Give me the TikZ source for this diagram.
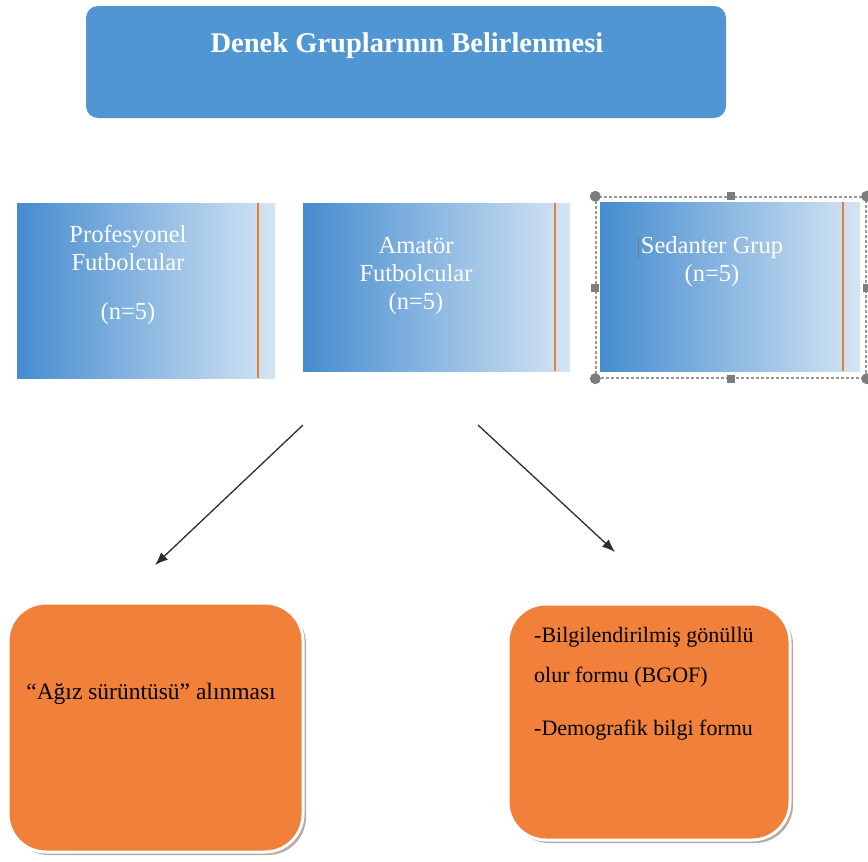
\documentclass[tikz,border=0pt]{standalone}
\usepackage{fontspec}
\setmainfont{Liberation Serif}
\usepackage{tikz}
\usetikzlibrary{scopes,shadows,arrows.meta}
\definecolor{titleblue}{RGB}{80,150,210}
\definecolor{grpdark}{RGB}{70,140,207}
\definecolor{grpmid}{RGB}{138,182,226}
\definecolor{grplight}{RGB}{212,229,244}
\definecolor{accentorange}{RGB}{237,125,49}
\definecolor{resorange}{RGB}{240,128,58}
\definecolor{shadowgray}{RGB}{184,170,158}
\definecolor{arrowgray}{RGB}{45,45,45}
\definecolor{handlegray}{RGB}{125,125,125}

\begin{document}
\begin{tikzpicture}[
    x=1pt,y=-1pt,
    title/.style={rectangle,rounded corners=12pt,fill=titleblue,minimum width=640pt,minimum height=112pt,inner sep=0pt},
    grp/.style={rectangle,left color=grpdark,middle color=grpmid,right color=grplight,inner sep=0pt},
    grptext/.style={text=white,align=center,anchor=north,inner sep=0pt,font=\fontsize{24.5}{28}\selectfont},
    accent/.style={draw=accentorange,line width=2.5pt},
    selframe/.style={rectangle,draw=handlegray!80,densely dashed,line width=1.4pt,inner sep=0pt},
    handle/.style={fill=handlegray,inner sep=0pt},
    res/.style={rectangle,rounded corners=38pt,fill=resorange,draw=white,line width=3pt,inner sep=0pt,
        drop shadow={shadow xshift=3pt,shadow yshift=-3pt,fill=shadowgray,opacity=1}},
    restext/.style={text=black,inner sep=0pt,font=\fontsize{22}{40}\selectfont},
    flow/.style={>={Latex[length=13pt,width=10pt]},draw=arrowgray,line width=1.3pt},
]
    \useasboundingbox (0,0) rectangle (868,862);

    \node[title] (top) at (406,62) {};
    \node[text=white,anchor=base,inner sep=0pt,font=\bfseries\fontsize{28.5}{32}\selectfont] (toptxt) at (407,52) {Denek Gruplarının Belirlenmesi};

    \node[grp,minimum width=258pt,minimum height=175pt] (prof) at (146,290.5) {};
    \node[grp,minimum width=267pt,minimum height=168pt] (amat) at (436.5,287) {};
    \node[grp,minimum width=260pt,minimum height=169pt] (sed) at (730,286.5) {};
    \draw[accent] ([xshift=-17pt]prof.north east) -- ([xshift=-17pt]prof.south east);
    \draw[accent] ([xshift=-15pt]amat.north east) -- ([xshift=-15pt]amat.south east);
    \draw[accent] ([xshift=-17pt]sed.north east) -- ([xshift=-17pt]sed.south east);

    \node[grptext] (proftxt) at (128,225) {Profesyonel\\Futbolcular\\[21pt](n=5)};
    \node[grptext] (amattxt) at (416,237) {Amatör\\Futbolcular\\(n=5)};
    \node[grptext] (sedtxt) at (712,236) {Sedanter Grup\\(n=5)};
    \draw[handlegray,line width=0.8pt] ([xshift=-2pt]sedtxt.north west) -- ++(0,23);

    \node[selframe,minimum width=270pt,minimum height=181pt] (sel) at (731,287.5) {};
    \foreach \a in {north west,north east,south west,south east}
        \node[handle,circle,minimum size=11pt] (hdl \a) at (sel.\a) {};
    \foreach \a in {north,south,east,west}
        \node[handle,rectangle,minimum size=8pt] (hdl \a) at (sel.\a) {};

    \coordinate (split l) at (303,425);
    \coordinate (tip l) at (155,565);
    \coordinate (split r) at (478,425);
    \coordinate (tip r) at (615,552);
    {[flow,->]
        \draw (split l) -- (tip l);
        \draw (split r) -- (tip r);
    }

    \node[res,minimum width=295pt,minimum height=249pt] (swab) at (155.5,727.5) {};
    \node[res,minimum width=282pt,minimum height=236pt] (forms) at (649,722) {};
    \node[restext,anchor=base,font=\fontsize{23.5}{40}\selectfont] (swabtxt) at (151,699) {“Ağız sürüntüsü” alınması};
    \node[restext,anchor=north west,align=left] (formstxt) at (534,627) {-Bilgilendirilmiş gönüllü\\olur formu (BGOF)\\[13pt]-Demografik bilgi formu};
\end{tikzpicture}
\end{document}
